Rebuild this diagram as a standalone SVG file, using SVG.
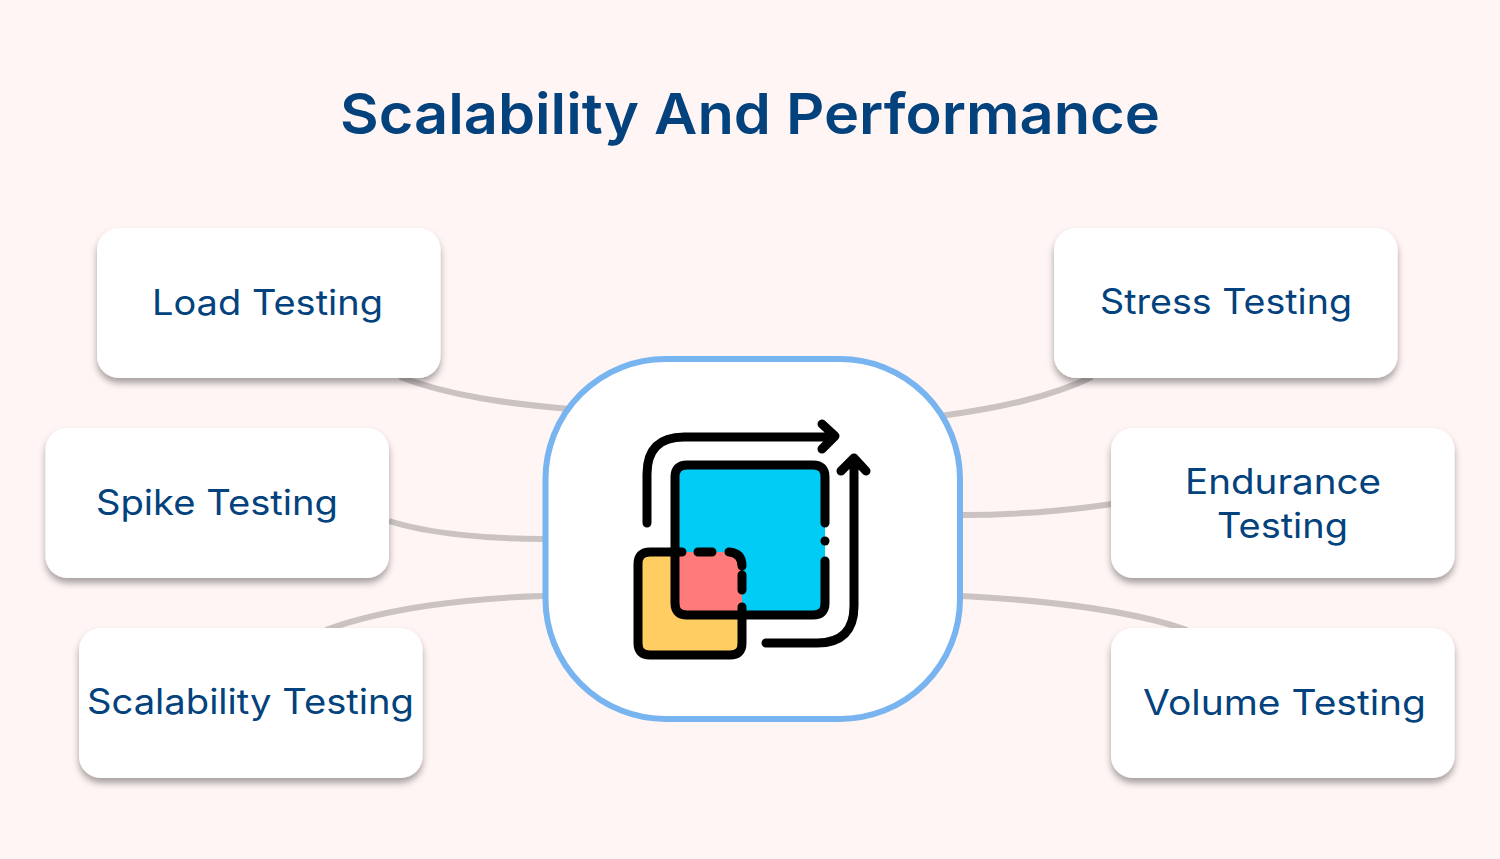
<svg xmlns="http://www.w3.org/2000/svg" width="1500" height="859" viewBox="0 0 1500 859">
<style>
.card{fill:#fff;filter:url(#sh)}
.lbl{font-family:Inter,"Open Sans","Liberation Sans",sans-serif;font-size:35px;fill:#03427c}
.title{font-family:Inter,"Open Sans","Liberation Sans",sans-serif;font-size:56px;font-weight:600;fill:#03427c}
.con{fill:none;stroke:#cbc2c2;stroke-width:6}
.ic{fill:none;stroke:#000;stroke-width:9;stroke-linecap:round;stroke-linejoin:round}
</style>
<defs>
<filter id="sh" x="-10%" y="-15%" width="120%" height="135%">
<feDropShadow dx="0" dy="5" stdDeviation="3.500" flood-color="#000" flood-opacity="0.35"/>
</filter>
</defs>
<rect width="1500" height="859" fill="#fff5f4"/>
<text class="title" x="340" y="134" textLength="820" lengthAdjust="spacingAndGlyphs">Scalability And Performance</text>
<g id="connectors">
<path class="con" d="M400 377C450 396 510 404 570 409"/>
<path class="con" d="M389 521C430 534 490 539 543 539"/>
<path class="con" d="M326 630C385 608 470 598 543 596"/>
<path class="con" d="M1092 377C1050 397 1000 408 940 416"/>
<path class="con" d="M1112 504C1065 511 1010 515 962 515"/>
<path class="con" d="M962 596C1040 600 1130 610 1187 630"/>
</g>
<g id="node-load"><rect class="card" x="97" y="228" width="343.500" height="150" rx="22"/><text class="lbl" x="152" y="315" textLength="231" lengthAdjust="spacingAndGlyphs">Load Testing</text></g>
<g id="node-spike"><rect class="card" x="45.500" y="428" width="343.500" height="150" rx="22"/><text class="lbl" x="96" y="515" textLength="242" lengthAdjust="spacingAndGlyphs">Spike Testing</text></g>
<g id="node-scalability"><rect class="card" x="79" y="628" width="343.500" height="150" rx="22"/><text class="lbl" x="87" y="714" textLength="327" lengthAdjust="spacingAndGlyphs">Scalability Testing</text></g>
<g id="node-stress"><rect class="card" x="1054" y="228" width="343.500" height="150" rx="22"/><text class="lbl" x="1100" y="314" textLength="252" lengthAdjust="spacingAndGlyphs">Stress Testing</text></g>
<g id="node-endurance"><rect class="card" x="1111" y="428" width="343.500" height="150" rx="22"/><text class="lbl" x="1185" y="494" textLength="196" lengthAdjust="spacingAndGlyphs">Endurance</text><text class="lbl" x="1217" y="538" textLength="131" lengthAdjust="spacingAndGlyphs">Testing</text></g>
<g id="node-volume"><rect class="card" x="1111" y="628" width="343.500" height="150" rx="22"/><text class="lbl" x="1143" y="715" textLength="283" lengthAdjust="spacingAndGlyphs">Volume Testing</text></g>
<g id="node-center">
<rect x="545.500" y="359" width="414.500" height="360" rx="120" fill="#fff" stroke="#78b4f0" stroke-width="6"/>
<path d="M650 552H730Q742 552 742 564V643Q742 655 730 655H650Q638 655 638 643V564Q638 552 650 552Z" fill="#ffcd62"/>
<path d="M687 465H813Q825 465 825 477V603Q825 615 813 615H687Q675 615 675 603V477Q675 465 687 465Z" fill="#00ccf5"/>
<path d="M675 552H730Q742 552 742 564V615H687Q675 615 675 603Z" fill="#ff7b7b"/>
<path class="ic" d="M682 552H650Q638 552 638 564V643Q638 655 650 655H730Q742 655 742 643V607"/>
<path class="ic" d="M825 523V477Q825 465 813 465H687Q675 465 675 477V603Q675 615 687 615H813Q825 615 825 603V561"/>
<path class="ic" d="M825 541V541.100"/>
<path class="ic" d="M698 552H712M729 552Q742 553 742 566M742 575V590"/>
<path class="ic" d="M647 523V474Q647 437 684 437H834M822 424L835 436L822 449"/>
<path class="ic" d="M766 643H817Q854 643 854 606V458M841 471L854 458L866 471"/>
</g>
</svg>
